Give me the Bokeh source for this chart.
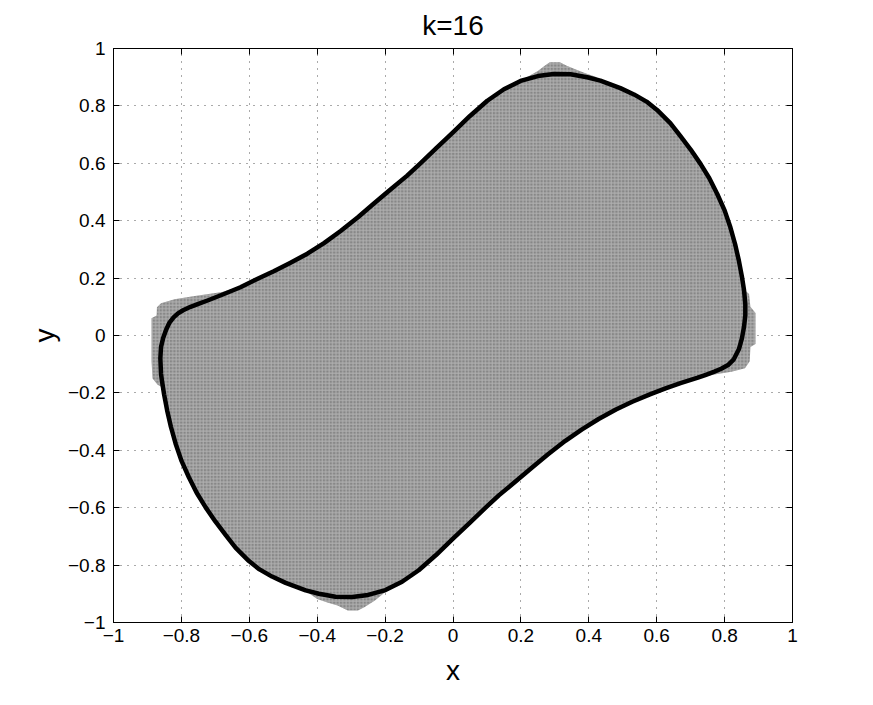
from bokeh.plotting import figure
from bokeh.models import Range1d, LinearAxis, FixedTicker, CustomJSTickFormatter
from bokeh.embed import file_html
from bokeh.resources import INLINE

# ---- data ----
title_text = "k=16"
x_label = "x"
y_label = "y"

tick_values = [-1.0, -0.8, -0.6, -0.4, -0.2, 0.0, 0.2, 0.4, 0.6, 0.8, 1.0]
tick_labels = ["\u22121", "\u22120.8", "\u22120.6", "\u22120.4", "\u22120.2", "0",
               "0.2", "0.4", "0.6", "0.8", "1"]

# black boundary curve (closed)
curve_x = [-0.860, -0.862, -0.860, -0.854, -0.845, -0.835, -0.823, -0.810, -0.795,
           -0.773, -0.750, -0.723, -0.680, -0.626, -0.580, -0.528, -0.480, -0.429,
           -0.380, -0.331, -0.280, -0.233, -0.185, -0.135, -0.096, -0.050, 0.000,
           0.050, 0.101, 0.150, 0.199, 0.250, 0.297, 0.346, 0.395, 0.434, 0.493,
           0.533, 0.570, 0.601, 0.640, 0.670, 0.700, 0.729, 0.755, 0.778, 0.800,
           0.817, 0.831, 0.842, 0.851, 0.857, 0.861, 0.861, 0.857, 0.851, 0.842,
           0.827, 0.810, 0.790, 0.770, 0.745, 0.719, 0.670, 0.626, 0.580, 0.528,
           0.480, 0.429, 0.380, 0.331, 0.280, 0.233, 0.185, 0.135, 0.096, 0.050,
           0.000, -0.050, -0.101, -0.150, -0.199, -0.250, -0.297, -0.346, -0.395,
           -0.434, -0.493, -0.533, -0.570, -0.601, -0.640, -0.670, -0.700, -0.729,
           -0.755, -0.778, -0.800, -0.817, -0.831, -0.842, -0.851, -0.857]
curve_y = [-0.134, -0.080, -0.040, -0.010, 0.020, 0.045, 0.063, 0.077, 0.088,
           0.100, 0.110, 0.122, 0.142, 0.168, 0.195, 0.224, 0.253, 0.285,
           0.322, 0.364, 0.412, 0.460, 0.508, 0.557, 0.600, 0.652, 0.708,
           0.765, 0.818, 0.858, 0.887, 0.904, 0.911, 0.910, 0.900, 0.888, 0.862,
           0.840, 0.815, 0.786, 0.740, 0.695, 0.648, 0.598, 0.548, 0.494, 0.436,
           0.377, 0.318, 0.261, 0.205, 0.160, 0.110, 0.070, 0.029, -0.010, -0.048,
           -0.083, -0.103, -0.116, -0.126, -0.137, -0.148, -0.166, -0.184, -0.205, -0.231,
           -0.258, -0.291, -0.327, -0.367, -0.414, -0.460, -0.508, -0.557, -0.600, -0.652,
           -0.708, -0.765, -0.818, -0.858, -0.887, -0.904, -0.911, -0.910, -0.900,
           -0.888, -0.862, -0.840, -0.815, -0.786, -0.740, -0.695, -0.648, -0.598,
           -0.548, -0.494, -0.436, -0.377, -0.318, -0.261, -0.205, -0.160]

# grey sampled region (outline of the grid points)
region_x = [-0.857, -0.870, -0.885, -0.888, -0.888, -0.873, -0.872, -0.860, -0.820,
            -0.770, -0.720, -0.680, -0.626, -0.580, -0.528, -0.480, -0.429, -0.380,
            -0.331, -0.280, -0.233, -0.185, -0.135, -0.096, -0.050, 0.000, 0.050,
            0.101, 0.150, 0.199, 0.220, 0.250, 0.270, 0.285, 0.315, 0.335, 0.360,
            0.390, 0.420, 0.434, 0.493, 0.533, 0.570, 0.601, 0.640, 0.670, 0.700,
            0.729, 0.755, 0.778, 0.800, 0.817, 0.831, 0.842, 0.851, 0.857, 0.872,
            0.876, 0.891, 0.891, 0.876, 0.874, 0.860, 0.820, 0.770, 0.720, 0.670,
            0.626, 0.580, 0.528, 0.480, 0.429, 0.380, 0.331, 0.280, 0.233, 0.185,
            0.135, 0.096, 0.050, 0.000, -0.050, -0.101, -0.150, -0.200, -0.230,
            -0.260, -0.280, -0.310, -0.340, -0.370, -0.400, -0.434, -0.493, -0.533,
            -0.570, -0.601, -0.640, -0.670, -0.700, -0.729, -0.755, -0.778, -0.800,
            -0.817, -0.831, -0.842, -0.851]
region_y = [-0.180, -0.172, -0.150, -0.090, 0.060, 0.070, 0.098, 0.112, 0.126,
            0.136, 0.145, 0.152, 0.172, 0.197, 0.226, 0.255, 0.287, 0.324,
            0.366, 0.414, 0.462, 0.510, 0.559, 0.602, 0.654, 0.710, 0.767,
            0.820, 0.860, 0.889, 0.902, 0.922, 0.940, 0.952, 0.952, 0.940, 0.928,
            0.914, 0.902, 0.890, 0.864, 0.842, 0.817, 0.788, 0.742, 0.697, 0.650,
            0.600, 0.550, 0.496, 0.438, 0.379, 0.320, 0.263, 0.207, 0.160, 0.145,
            0.100, 0.078, -0.030, -0.040, -0.090, -0.114, -0.126, -0.136, -0.148, -0.168,
            -0.186, -0.207, -0.233, -0.260, -0.293, -0.329, -0.369, -0.416, -0.462, -0.510,
            -0.559, -0.602, -0.654, -0.710, -0.767, -0.820, -0.860, -0.895, -0.923,
            -0.946, -0.958, -0.958, -0.941, -0.930, -0.918, -0.890, -0.864, -0.842,
            -0.817, -0.788, -0.742, -0.697, -0.650, -0.600, -0.550, -0.496, -0.438,
            -0.379, -0.320, -0.263, -0.207]

FONT = "Liberation Sans"

p = figure(width=873, height=705, x_range=Range1d(-1, 1), y_range=Range1d(-1, 1),
           output_backend="svg", toolbar_location=None, title=title_text,
           min_border_left=113, min_border_right=81, min_border_top=48,
           min_border_bottom=83)

p.title.text_font = FONT
p.title.text_font_size = "28px"
p.title.text_font_style = "normal"
p.title.text_color = "black"
p.title.align = "center"
p.title.offset = 0
p.title.standoff = 15
p.title.text_line_height = 0.8

p.outline_line_color = "black"
p.outline_line_width = 1
p.background_fill_color = "white"
p.border_fill_color = "white"

fmt = CustomJSTickFormatter(args=dict(vals=tick_values, labs=tick_labels), code="""
let best = 0;
for (let i = 0; i < vals.length; i++) {
  if (Math.abs(vals[i] - tick) < Math.abs(vals[best] - tick)) best = i;
}
return labs[best];
""")

ticker = FixedTicker(ticks=tick_values)

for ax in (p.xaxis[0], p.yaxis[0]):
    ax.ticker = ticker
    ax.formatter = fmt
    ax.major_tick_in = 6
    ax.major_tick_out = 0
    ax.minor_tick_in = 0
    ax.minor_tick_out = 0
    ax.axis_line_color = "black"
    ax.major_tick_line_color = "black"
    ax.major_label_text_font = FONT
    ax.major_label_text_font_size = "19px"
    ax.major_label_text_color = "black"
    ax.axis_label_text_font = FONT
    ax.axis_label_text_font_size = "28px"
    ax.axis_label_text_font_style = "normal"
    ax.axis_label_text_color = "black"

p.xaxis[0].axis_label = x_label
p.yaxis[0].axis_label = y_label
p.xaxis[0].major_label_standoff = 6
p.yaxis[0].major_label_standoff = 8
p.xaxis[0].axis_label_standoff = 10
p.yaxis[0].axis_label_standoff = 5

for loc in ("above", "right"):
    ax = LinearAxis(ticker=ticker, formatter=fmt)
    ax.major_tick_in = 6
    ax.major_tick_out = 0
    ax.minor_tick_in = 0
    ax.minor_tick_out = 0
    ax.axis_line_color = "black"
    ax.major_tick_line_color = "black"
    ax.major_label_text_font_size = "0px"
    ax.major_label_text_alpha = 0
    p.add_layout(ax, loc)

for g in (p.xgrid[0], p.ygrid[0]):
    g.ticker = ticker
    g.grid_line_color = "#444444"
    g.grid_line_width = 1
    g.grid_line_dash = "1 6"
    g.grid_line_alpha = 0.9

p.patch(region_x, region_y, fill_color="#878787", line_color=None,
        hatch_pattern="+", hatch_color="white", hatch_scale=3.4,
        hatch_weight=1, hatch_alpha=0.35)

p.patch(curve_x, curve_y, fill_alpha=0, line_color="black", line_width=4.5,
        line_join="round")

open("out.html", "w").write(file_html(p, INLINE))
